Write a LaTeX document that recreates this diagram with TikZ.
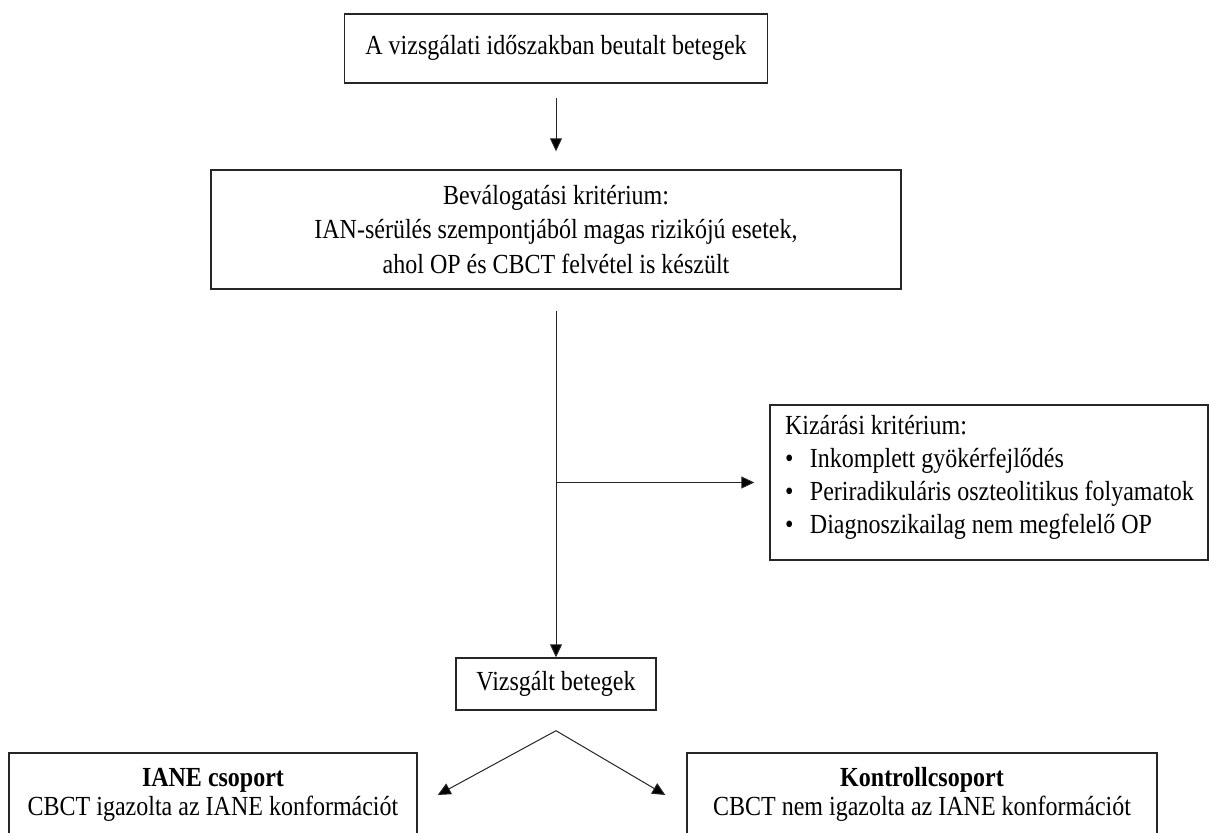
\documentclass[tikz,border=0pt]{standalone}
\usepackage{fontspec}
\usepackage{graphicx}
\setmainfont{Liberation Serif}
\usetikzlibrary{arrows.meta}
\newcommand{\vt}[2][c]{\scalebox{1}[1.15]{\begin{tabular}{@{}#1@{}}#2\end{tabular}}}
\newcommand{\bul}{\makebox[25pt][l]{\textbullet}}
\begin{document}
\begin{tikzpicture}[x=1pt,y=-1pt,
  box/.style={draw=black!85, line width=1.4pt, inner sep=0pt, align=center},
  txt/.style={font=\fontsize{24}{#1}\selectfont},
  conn/.style={draw=black!85, line width=1pt},
  arr/.style={conn, -{Triangle[length=13pt,width=12pt,fill=black]}},
]
\useasboundingbox (0,0) rectangle (1214,832);
\clip (0,0) rectangle (1214,832);
\fill[white] (0,0) rectangle (1214,832);

\node[box, txt=28, minimum width=423pt, minimum height=69pt] (start) at (556,48.5)
  {\vt{A vizsgálati időszakban beutalt betegek}};

\node[box, txt=30.4, minimum width=690pt, minimum height=119pt] (incl) at (556,229.5)
  {\raisebox{-2.5pt}[\height][\depth]{\vt{Beválogatási kritérium:\\IAN-sérülés szempontjából magas rizikójú esetek,\\ahol OP és CBCT felvétel is készült}}};

\node[box, txt=28.7, minimum width=438pt, minimum height=155pt, align=left] (excl) at (989,482.5)
  {\raisebox{5pt}[\height][\depth]{\makebox[408pt][l]{\vt[l]{Kizárási kritérium:\\
   \bul Inkomplett gyökérfejlődés\\
   \bul Periradikuláris oszteolitikus folyamatok\\
   \bul Diagnoszikailag nem megfelelő OP}}}};

\node[box, txt=28, minimum width=200pt, minimum height=52pt] (vizs) at (556,684)
  {\vt{Vizsgált betegek}};

\node[box, txt=26, minimum width=408pt, minimum height=84pt] (iane) at (213,795)
  {\vt{\textbf{IANE csoport}\\CBCT igazolta az IANE konformációt}};

\node[box, txt=26, minimum width=470pt, minimum height=84pt] (kontroll) at (922,795)
  {\vt{\textbf{Kontrollcsoport}\\CBCT nem igazolta az IANE konformációt}};

\draw[arr] ([yshift=-14pt]start.south) -- ([yshift=18pt]incl.north);
\draw[arr] ([yshift=-21pt]incl.south) -- (vizs.north);
\draw[arr] (incl.south |- excl.west) -- ([xshift=-15pt]excl.west);
\coordinate (apex) at ([yshift=-20pt]vizs.south);
\draw[arr] (apex) -- ([xshift=20pt]iane.east);
\draw[arr] (apex) -- ([xshift=-21pt]kontroll.west);
\end{tikzpicture}
\end{document}
